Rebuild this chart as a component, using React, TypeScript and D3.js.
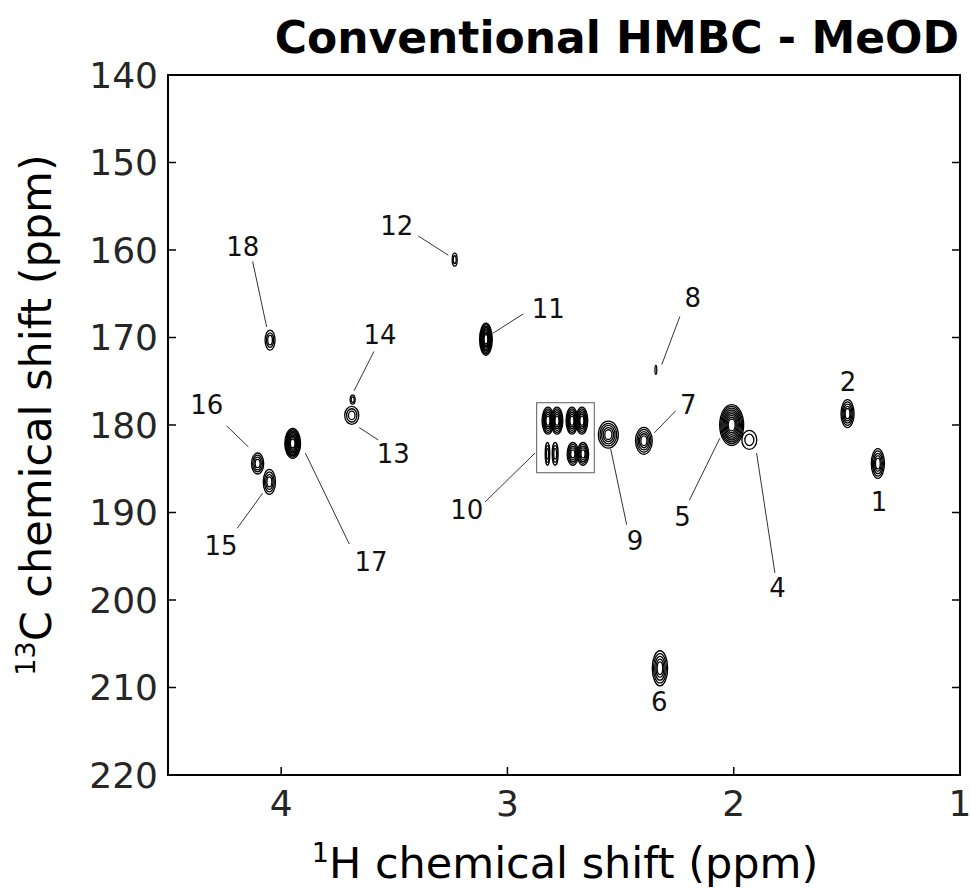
import React from "react";
import * as d3 from "d3";

// 1H ppm, 13C ppm, half-width (1H ppm), half-height (13C ppm), contour levels
const peakIds = ["1","2","4","5","6","7","8","9","10a","10b","10c","10d","10e","10f","10g","10h","11","12","13","14","15","16","17","18"];
const peakH = [1.363,1.497,1.931,2.009,2.326,2.397,2.344,2.554,2.821,2.781,2.715,2.671,2.823,2.789,2.711,2.666,3.095,3.233,3.688,3.684,4.052,4.104,3.949,4.049];
const peakC = [184.4,178.7,181.7,180.0,207.8,181.8,173.7,181.1,179.5,179.5,179.5,179.5,183.3,183.3,183.3,183.3,170.2,161.1,178.9,177.1,186.5,184.4,182.1,170.3];
const peakRH = [0.029,0.029,0.033,0.053,0.034,0.037,0.004,0.044,0.026,0.026,0.026,0.026,0.010,0.013,0.025,0.025,0.028,0.011,0.031,0.011,0.027,0.027,0.035,0.022];
const peakRC = [1.71,1.6,1.09,2.34,2.0,1.54,0.5,1.54,1.55,1.55,1.55,1.55,1.3,1.3,1.3,1.3,1.83,0.74,1.03,0.51,1.43,1.2,1.71,1.14];
const peakLevels = [5,5,2,9,5,5,1,5,6,6,6,6,3,3,5,5,9,2,3,2,4,4,9,3];

// annotation labels: text, label position, leader line (ppm coordinates)
const labelText = ["1","2","4","5","6","7","8","9","10","11","12","13","14","15","16","17","18"];
const labelH = [1.358,1.495,1.806,2.226,2.329,2.201,2.181,2.436,3.180,2.819,3.489,3.504,3.563,4.266,4.329,3.603,4.170];
const labelC = [188.8,175.1,198.6,190.5,211.6,177.7,165.5,193.3,189.7,166.7,157.3,183.3,169.7,193.8,177.7,195.7,159.6];
const leaderH1 = [null,null,1.899,2.061,null,2.351,2.238,2.544,3.099,3.063,3.394,3.655,3.590,4.194,4.241,3.893,4.126];
const leaderC1 = [null,null,183.2,181.5,null,180.9,167.6,182.7,188.8,169.5,158.4,180.3,171.6,191.8,180.1,183.2,161.3];
const leaderH2 = [null,null,1.818,2.196,null,2.257,2.318,2.473,2.878,2.930,3.261,3.571,3.678,4.082,4.145,3.699,4.064];
const leaderC2 = [null,null,196.9,188.6,null,178.4,173.1,191.4,183.2,167.3,160.6,181.7,176.1,187.8,182.5,193.6,168.8];

// box around group 10
const boxH = [2.871, 2.616];
const boxC = [177.45, 185.45];

const xTicks = [4, 3, 2, 1];
const yTicks = [140, 150, 160, 170, 180, 190, 200, 210, 220];
const xDomain = [4.5, 1];
const yDomain = [140, 220];

const W = 971, H = 893;
const L = 168, R = 960, T = 75, B = 775;

export default function App() {
  const x = d3.scaleLinear().domain(xDomain).range([L, R]);
  const y = d3.scaleLinear().domain(yDomain).range([T, B]);
  const font = "'DejaVu Sans', sans-serif";
  const tickLen = 8;

  const peaks = peakIds.map((id, i) => {
    const n = peakLevels[i];
    const ells = [];
    for (let k = 0; k < n; k++) {
      const f = n === 1 ? 1 : 1 - (k * 0.8) / n;
      ells.push(
        <ellipse
          key={k}
          cx={x(peakH[i])}
          cy={y(peakC[i])}
          rx={Math.max(0.6, Math.abs(x(peakH[i] + peakRH[i] * f) - x(peakH[i])))}
          ry={Math.abs(y(peakC[i] + peakRC[i] * f) - y(peakC[i]))}
          fill="none"
          stroke="#000"
          strokeWidth={1.3}
        />
      );
    }
    return <g key={id}>{ells}</g>;
  });

  return (
    <svg width={W} height={H} style={{ position: "absolute", left: 0, top: 0, background: "#fff" }}>
      <rect x={0} y={0} width={W} height={H} fill="#fff" />
      {/* title */}
      <text x={R - 1} y={53} textAnchor="end" fontFamily={font} fontWeight="bold" fontSize={44} fill="#000">
        Conventional HMBC - MeOD
      </text>

      {/* peaks */}
      {peaks}

      {/* box */}
      <rect
        x={x(boxH[0])}
        y={y(boxC[0])}
        width={x(boxH[1]) - x(boxH[0])}
        height={y(boxC[1]) - y(boxC[0])}
        fill="none"
        stroke="#777"
        strokeWidth={1.2}
      />

      {/* leaders and labels */}
      {labelText.map((t, i) => (
        <g key={t}>
          {leaderH1[i] !== null && (
            <line
              x1={x(leaderH1[i] as number)}
              y1={y(leaderC1[i] as number)}
              x2={x(leaderH2[i] as number)}
              y2={y(leaderC2[i] as number)}
              stroke="#333"
              strokeWidth={1}
            />
          )}
          <text
            x={x(labelH[i])}
            y={y(labelC[i])}
            textAnchor="middle"
            dominantBaseline="central"
            fontFamily={font}
            fontSize={26}
            fill="#111"
          >
            {t}
          </text>
        </g>
      ))}

      {/* frame */}
      <rect x={L} y={T} width={R - L} height={B - T} fill="none" stroke="#000" strokeWidth={2} />

      {/* x ticks */}
      {xTicks.map((t) => (
        <g key={"x" + t}>
          <line x1={x(t)} x2={x(t)} y1={B} y2={B - tickLen} stroke="#000" strokeWidth={1.5} />
          <text x={x(t)} y={816} textAnchor="middle" fontFamily={font} fontSize={36} fill="#262626">
            {t}
          </text>
        </g>
      ))}

      {/* y ticks */}
      {yTicks.map((t) => (
        <g key={"y" + t}>
          <line x1={L} x2={L + tickLen} y1={y(t)} y2={y(t)} stroke="#000" strokeWidth={1.5} />
          <line x1={R} x2={R - tickLen} y1={y(t)} y2={y(t)} stroke="#000" strokeWidth={1.5} />
          <text x={158} y={y(t)} textAnchor="end" dominantBaseline="central" fontFamily={font} fontSize={36} fill="#262626">
            {t}
          </text>
        </g>
      ))}

      {/* x label */}
      <text x={565} y={878} textAnchor="middle" fontFamily={font} fontSize={43} fill="#000">
        <tspan fontSize={27} dy={-16}>1</tspan>
        <tspan dy={16}>H chemical shift (ppm)</tspan>
      </text>

      {/* y label */}
      <text
        transform={`translate(51, 415) rotate(-90)`}
        textAnchor="middle"
        fontFamily={font}
        fontSize={43}
        fill="#000"
      >
        <tspan fontSize={27} dy={-16}>13</tspan>
        <tspan dy={16}>C chemical shift (ppm)</tspan>
      </text>
    </svg>
  );
}
